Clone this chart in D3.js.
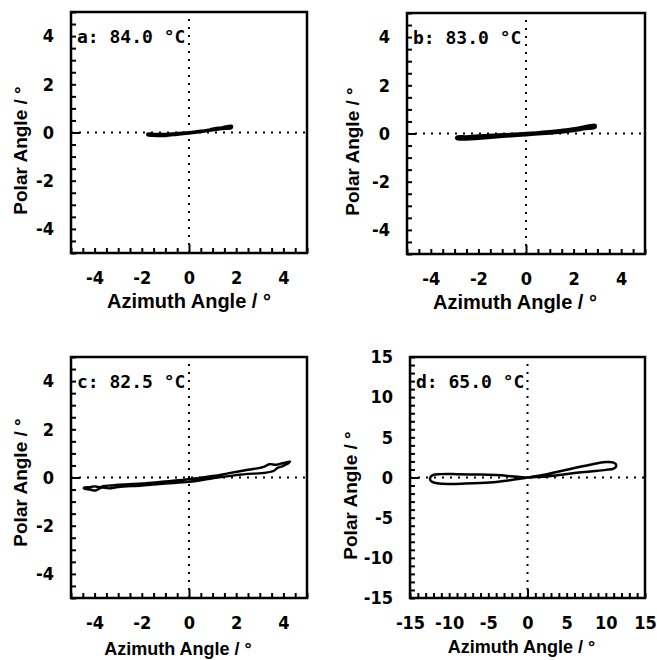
<!DOCTYPE html>
<html><head><meta charset="utf-8">
<script src="https://cdn.jsdelivr.net/npm/d3@7"></script>
<style>body{margin:0;background:#fff}</style>
</head><body>
<svg id="chart" width="657" height="660"></svg>
<script>
// ---- data ----
const panelLabels = ["a: 84.0 °C", "b: 83.0 °C", "c: 82.5 °C", "d: 65.0 °C"];
const xTitle = "Azimuth Angle / °";
const yTitle = "Polar Angle / °";
const domainSmall = [-5, 5];
const domainLarge = [-15, 15];
const tickLabelsSmall = [-4, -2, 0, 2, 4];
const tickLabelsLarge = [-15, -10, -5, 0, 5, 10, 15];
const minorStepSmall = 0.5;
const minorStepLarge = 1;

// trajectories [azimuth, polar] (closed loops)
const loopA = [[-1.75,-0.06],[-1.4,-0.07],[-1.0,-0.07],[-0.5,-0.03],[0,0.0],[0.5,0.06],[0.9,0.12],[1.1,0.17],[1.4,0.2],[1.8,0.27],
               [1.8,0.2],[1.4,0.16],[1.0,0.1],[0.5,0.03],[0,-0.03],[-0.5,-0.08],[-1.0,-0.13],[-1.4,-0.13],[-1.75,-0.1]];
const loopB = [[-2.9,-0.15],[-2.5,-0.14],[-2,-0.1],[-1,-0.05],[0,0.0],[1,0.08],[1.7,0.15],[2.2,0.22],[2.6,0.3],[2.9,0.34],
               [2.9,0.25],[2.5,0.2],[2,0.12],[1.5,0.06],[1,0.02],[0,-0.05],[-1,-0.12],[-2,-0.2],[-2.5,-0.23],[-2.9,-0.21]];
const loopC = [[-4.45,-0.42],[-4.2,-0.4],[-4.0,-0.37],[-3.8,-0.4],[-3.6,-0.35],[-3.3,-0.33],[-3.0,-0.3],[-2,-0.25],[-1,-0.16],[0,-0.07],
               [1,0.06],[1.7,0.18],[2.5,0.32],[3.0,0.4],[3.2,0.45],[3.4,0.55],[3.7,0.53],[4.0,0.6],[4.28,0.66],
               [4.2,0.58],[3.9,0.45],[3.74,0.39],[3.6,0.28],[3.1,0.18],[2.5,0.15],[2.0,0.1],[1.2,0.0],[0,-0.18],[-1,-0.25],
               [-2,-0.33],[-3,-0.4],[-3.4,-0.45],[-3.7,-0.42],[-3.95,-0.54],[-4.2,-0.5],[-4.45,-0.46]];
const loopD = [[0,0],[1,0.05],[2.5,0.13],[4,0.3],[6,0.55],[8,0.75],[10,0.95],[11,1.1],[11.35,1.5],[11,1.85],[10,1.92],[8,1.6],
               [6,1.18],[4,0.75],[2.5,0.42],[1,0.15],[0,0],[-1,-0.15],[-2.5,-0.38],[-4,-0.55],[-6,-0.68],[-8,-0.76],
               [-10,-0.8],[-11.5,-0.72],[-12.25,-0.5],[-12.45,-0.1],[-12.1,0.3],[-11,0.42],[-9,0.42],[-6,0.38],[-4,0.3],
               [-2.5,0.2],[-1,0.07]];

// ---- layout ----
const panels = [
  {loop: loopA, dom: domainSmall, labels: tickLabelsSmall, step: minorStepSmall, left: 71, top: 12, w: 236, h: 241, ytx: 27, ytOff: 18, xtOff: 55, xtDx: 0, xtSize: 20, sw: 3},
  {loop: loopB, dom: domainSmall, labels: tickLabelsSmall, step: minorStepSmall, left: 407, top: 13, w: 238, h: 241, ytx: 359, ytOff: 18, xtOff: 55, xtDx: -11, xtSize: 20, sw: 3.4},
  {loop: loopC, dom: domainSmall, labels: tickLabelsSmall, step: minorStepSmall, left: 71, top: 357, w: 236, h: 241, ytx: 27, ytOff: 5, xtOff: 57, xtDx: -11, xtSize: 18, sw: 2.4},
  {loop: loopD, dom: domainLarge, labels: tickLabelsLarge, step: minorStepLarge, left: 410, top: 357, w: 235, h: 241, ytx: 357, ytOff: 18, xtOff: 55, xtDx: -6, xtSize: 18, sw: 2.5}
];

const svg = d3.select("#chart");
const tickFont = "'Liberation Sans Narrow','DejaVu Sans Condensed',sans-serif";

panels.forEach((p, i) => {
  const x = d3.scaleLinear().domain(p.dom).range([p.left, p.left + p.w]);
  const y = d3.scaleLinear().domain(p.dom).range([p.top + p.h, p.top]);
  const g = svg.append("g");
  const minor = d3.range(p.dom[0], p.dom[1] + p.step / 2, p.step);
  const fmt = d => p.labels.includes(d) ? String(d) : "";

  // dotted zero lines
  g.append("line").attr("x1", x(p.dom[0])).attr("x2", x(p.dom[1])).attr("y1", y(0)).attr("y2", y(0))
    .attr("stroke", "#000").attr("stroke-width", 2).attr("stroke-dasharray", "2,6");
  g.append("line").attr("x1", x(0)).attr("x2", x(0)).attr("y1", y(p.dom[0])).attr("y2", y(p.dom[1]))
    .attr("stroke", "#000").attr("stroke-width", 2).attr("stroke-dasharray", "2,6");

  // axes
  const ax = g.append("g").attr("transform", `translate(0,${p.top + p.h})`)
    .call(d3.axisBottom(x).tickValues(minor).tickSize(-5).tickPadding(18).tickFormat(fmt));
  const ay = g.append("g").attr("transform", `translate(${p.left},0)`)
    .call(d3.axisLeft(y).tickValues(minor).tickSize(-5).tickPadding(17).tickFormat(fmt));
  [ax, ay].forEach(a => {
    a.select(".domain").remove();
    a.selectAll(".tick line").attr("stroke-width", 2);
    a.selectAll(".tick text").attr("font-family", tickFont).attr("font-weight", "bold")
      .attr("font-size", 18).attr("fill", "#000");
  });
  ax.selectAll(".tick").filter(d => d === 0).select("line").attr("y2", -9);
  ay.selectAll(".tick").filter(d => d === 0).select("line").attr("x2", 9);

  // box
  g.append("rect").attr("x", p.left).attr("y", p.top).attr("width", p.w).attr("height", p.h)
    .attr("fill", "none").attr("stroke", "#000").attr("stroke-width", 2.5);

  // trajectory
  const line = d3.line().x(d => x(d[0])).y(d => y(d[1])).curve(d3.curveCatmullRomClosed.alpha(0.5));
  g.append("path").attr("d", line(p.loop)).attr("fill", "none").attr("stroke", "#000")
    .attr("stroke-width", p.sw).attr("stroke-linejoin", "round");

  // panel label
  g.append("text").attr("x", p.left + 6).attr("y", p.top + 31)
    .attr("font-family", "'DejaVu Sans Mono',monospace").attr("font-weight", "bold").attr("font-size", 18)
    .text(panelLabels[i]);

  // axis titles
  g.append("text").attr("x", p.left + p.w / 2 + p.xtDx).attr("y", p.top + p.h + p.xtOff)
    .attr("text-anchor", "middle").attr("font-family", "'Liberation Sans',Arial,sans-serif")
    .attr("font-weight", "bold").attr("font-size", p.xtSize).text(xTitle);
  g.append("text").attr("transform", `translate(${p.ytx},${p.top + p.h / 2 + p.ytOff}) rotate(-90)`)
    .attr("text-anchor", "middle").attr("font-family", "'Liberation Sans',Arial,sans-serif")
    .attr("font-weight", "bold").attr("font-size", 19).text(yTitle);
});
</script>
</body></html>
